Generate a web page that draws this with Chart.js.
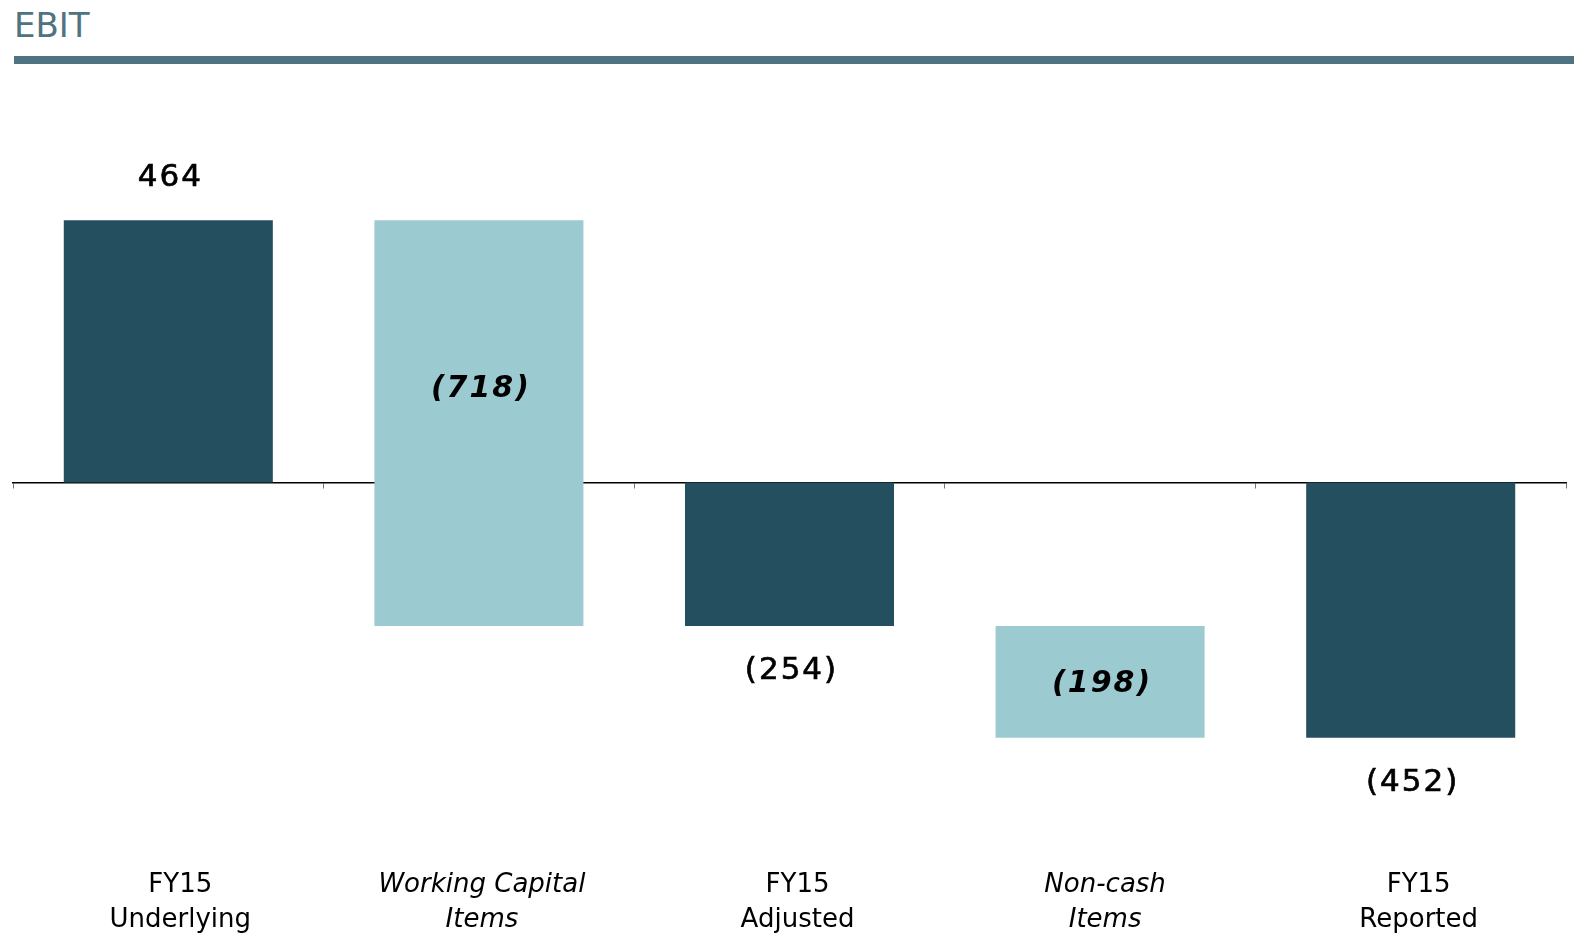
<!DOCTYPE html>
<html lang="en">
<head>
  <meta charset="UTF-8">
  <title>EBIT</title>
  <script src="https://cdn.jsdelivr.net/npm/chart.js"></script>
  <style>
    body {
      margin: 0;
      background: #ffffff;
      width: 1574px;
      height: 936px;
      overflow: hidden;
      position: relative;
      font-family: 'DejaVu Sans', sans-serif;
    }
    h1 {
      position: absolute;
      left: 14px;
      top: 0px;
      margin: 0;
      font-size: 34px;
      font-weight: normal;
      color: #4f7380;
      line-height: 50px;
    }
    .rule {
      position: absolute;
      left: 14px;
      right: 0;
      top: 56px;
      height: 8px;
      background: #4f7380;
    }
    #wrap {
      position: absolute;
      left: 0;
      top: 0;
      width: 1574px;
      height: 936px;
    }
  </style>
</head>
<body>

<h1>EBIT</h1>
<div class="rule"></div>

<div id="wrap">
  <canvas id="ebitChart" width="1574" height="936"></canvas>
</div>

<script>
  const categories = [
    ['FY15', 'Underlying'],
    ['Working Capital', 'Items'],
    ['FY15', 'Adjusted'],
    ['Non-cash', 'Items'],
    ['FY15', 'Reported']
  ];
  const barStart = [0, 464, 0, -254, 0];
  const barEnd = [464, -254, -254, -452, -452];
  const valueLabels = ['464', '(718)', '(254)', '(198)', '(452)'];
  const isBridge = [false, true, false, true, false];

  const darkTeal = '#234f5f';
  const lightTeal = '#9bcbd0';
  const labelNudge = [12, 3, 8, 5, 8]; // small horizontal shifts of the category names

  // labels on / around the bars
  const valueLabelPlugin = {
    id: 'valueLabels',
    afterDatasetsDraw(chart) {
      const ctx = chart.ctx;
      const meta = chart.getDatasetMeta(0);
      ctx.save();
      ctx.fillStyle = '#000000';
      ctx.strokeStyle = '#000000';
      ctx.lineWidth = 0.7;
      ctx.textAlign = 'center';
      ctx.textBaseline = 'middle';
      ctx.letterSpacing = '2px';
      meta.data.forEach((bar, i) => {
        const top = Math.min(bar.y, bar.base);
        const bottom = Math.max(bar.y, bar.base);
        let y;
        if (isBridge[i]) {
          ctx.font = 'italic bold 30px "DejaVu Sans"';
          y = (top + bottom) / 2 + (i === 1 ? -34 : 2);
          ctx.fillText(valueLabels[i], bar.x + 2, y);
        } else {
          ctx.font = '31px "DejaVu Sans"';
          y = barEnd[i] >= 0 ? top - 42 : bottom + 45;
          ctx.fillText(valueLabels[i], bar.x + 2, y);
          ctx.strokeText(valueLabels[i], bar.x + 2, y);
        }
      });
      ctx.restore();
    }
  };

  // category names under the plot
  const categoryLabelPlugin = {
    id: 'categoryLabels',
    afterDraw(chart) {
      const ctx = chart.ctx;
      const xScale = chart.scales.x;
      ctx.save();
      ctx.fillStyle = '#000000';
      ctx.textAlign = 'center';
      ctx.textBaseline = 'middle';
      categories.forEach((lines, i) => {
        ctx.font = (isBridge[i] ? 'italic ' : '') + '26px "DejaVu Sans"';
        const x = xScale.getPixelForValue(i) + labelNudge[i];
        lines.forEach((t, j) => ctx.fillText(t, x, 885 + j * 35));
      });
      ctx.restore();
    }
  };

  new Chart(document.getElementById('ebitChart'), {
    type: 'bar',
    data: {
      labels: categories.map(c => c.join(' ')),
      datasets: [{
        data: barStart.map((s, i) => [s, barEnd[i]]),
        backgroundColor: isBridge.map(b => b ? lightTeal : darkTeal),
        borderWidth: 0,
        categoryPercentage: 1,
        barPercentage: 0.673
      }]
    },
    options: {
      responsive: false,
      animation: false,
      devicePixelRatio: 1,
      layout: { padding: { left: 13, right: 8, top: 100, bottom: 100 } },
      plugins: {
        legend: { display: false },
        tooltip: { enabled: false }
      },
      scales: {
        x: {
          position: { y: 0 },
          grid: {
            offset: true,
            drawOnChartArea: false,
            drawTicks: true,
            tickLength: 5,
            color: '#777777',
            lineWidth: 1
          },
          border: { display: true, color: '#000000', width: 1.5 },
          ticks: { display: false }
        },
        y: {
          display: false,
          min: -626,
          max: 677
        }
      }
    },
    plugins: [valueLabelPlugin, categoryLabelPlugin]
  });
</script>

</body>
</html>
